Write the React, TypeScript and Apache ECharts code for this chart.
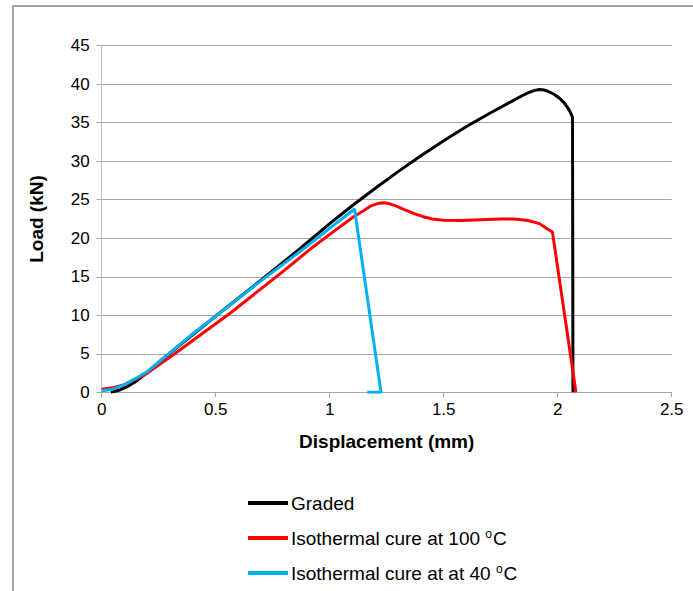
import React, { useEffect, useRef } from 'react';
import * as echarts from 'echarts';

const seriesNames = ['Graded', 'Isothermal cure at 100 ºC', 'Isothermal cure at at 40 ºC'];
const seriesColors = ['#000000', '#ff0000', '#00b0f0'];

const gradedX = [0.04, 0.08, 0.11, 0.15, 0.2, 0.25, 0.3, 0.4, 0.505, 0.7, 0.872, 1.0, 1.1, 1.2, 1.3, 1.4, 1.5, 1.6, 1.7, 1.8, 1.85, 1.88, 1.9, 1.92, 1.94, 1.96, 1.984, 2.005, 2.028, 2.045, 2.058, 2.065, 2.067];
const gradedY = [0, 0.3, 0.7, 1.4, 2.6, 3.9, 5.1, 7.5, 10, 14.6, 18.7, 21.9, 24.25, 26.5, 28.65, 30.7, 32.65, 34.5, 36.2, 37.8, 38.6, 39.0, 39.2, 39.3, 39.25, 39.05, 38.7, 38.25, 37.6, 36.9, 36.2, 35.7, 0];

const cure100X = [0, 0.05, 0.1, 0.2, 0.32, 0.44, 0.56, 0.68, 0.8, 0.915, 1.0, 1.105, 1.15, 1.18, 1.21, 1.237, 1.26, 1.29, 1.33, 1.37, 1.41, 1.45, 1.5, 1.58, 1.66, 1.75, 1.81, 1.87, 1.92, 1.955, 1.977, 2.08];
const cure100Y = [0.4, 0.6, 1.0, 2.5, 5, 7.6, 10.2, 13.0, 15.8, 18.6, 20.5, 22.8, 23.6, 24.2, 24.5, 24.6, 24.5, 24.2, 23.7, 23.2, 22.8, 22.5, 22.35, 22.3, 22.4, 22.5, 22.5, 22.3, 21.9, 21.2, 20.8, 0];

const cure40X = [0, 0.05, 0.1, 0.15, 0.2, 0.25, 0.29, 0.4, 0.51, 0.7, 0.893, 1.0, 1.109, 1.225, 1.165];
const cure40Y = [0.2, 0.4, 1.0, 1.8, 2.7, 3.9, 4.9, 7.6, 10.1, 14.5, 18.8, 21.3, 23.8, 0, 0];

const xTitle = 'Displacement (mm)';
const yTitle = 'Load (kN)';

const zip = (xs: number[], ys: number[]) => xs.map((x, i) => [x, ys[i]]);

export default function App() {
  const ref = useRef<HTMLDivElement>(null);
  useEffect(() => {
    if (!ref.current) return;
    const chart = echarts.init(ref.current, null, { renderer: 'svg' });
    const font = '"Liberation Sans", Arial, sans-serif';
    const dataSets = [zip(gradedX, gradedY), zip(cure100X, cure100Y), zip(cure40X, cure40Y)];
    const legendTops = [493, 528, 563];
    chart.setOption({
      animation: false,
      backgroundColor: '#ffffff',
      textStyle: { fontFamily: font },
      grid: { left: 101.7, right: 21.3, top: 45.7, bottom: 198.7 },
      graphic: [
        {
          type: 'rect',
          shape: { x: 13, y: 6, width: 720, height: 620 },
          style: { fill: 'none', stroke: '#878787', lineWidth: 1.5 },
          silent: true,
          z: -10,
        },
      ],
      xAxis: {
        type: 'value',
        min: 0,
        max: 2.5,
        interval: 0.5,
        name: xTitle,
        nameLocation: 'middle',
        nameGap: 40,
        nameTextStyle: { fontFamily: font, fontSize: 19, fontWeight: 'bold', color: '#000' },
        axisLine: { show: true, lineStyle: { color: '#a6a6a6', width: 1 } },
        axisTick: { show: true, length: 5, lineStyle: { color: '#a6a6a6' } },
        axisLabel: { fontFamily: font, fontSize: 17, color: '#000', margin: 9 },
        splitLine: { show: false },
      },
      yAxis: {
        type: 'value',
        min: 0,
        max: 45,
        interval: 5,
        name: yTitle,
        nameLocation: 'middle',
        nameGap: 56,
        nameRotate: 90,
        nameTextStyle: { fontFamily: font, fontSize: 19, fontWeight: 'bold', color: '#000' },
        axisLine: { show: true, lineStyle: { color: '#c0c0c0', width: 1 } },
        axisTick: { show: true, length: 5, lineStyle: { color: '#a6a6a6' } },
        axisLabel: { fontFamily: font, fontSize: 17, color: '#000', margin: 12 },
        splitLine: { show: true, lineStyle: { color: '#a6a6a6', width: 1 } },
      },
      legend: seriesNames.map((name, i) => ({
        orient: 'vertical',
        left: 248,
        top: legendTops[i],
        padding: 0,
        itemWidth: 40,
        itemHeight: 4,
        icon: 'rect',
        data: [name],
        formatter: (n: string) => n.replace('º', '{sup|o}'),
        textStyle: {
          fontFamily: font,
          fontSize: 19,
          color: '#000',
          lineHeight: 20,
          padding: [0, 0, 0, -2],
          rich: {
            sup: { fontFamily: font, fontSize: 12, lineHeight: 10, verticalAlign: 'top', color: '#000', padding: [0, 1, 6, 0] },
          },
        },
      })),
      series: seriesNames.map((name, i) => ({
        name,
        type: 'line',
        data: dataSets[i],
        showSymbol: false,
        symbol: 'none',
        color: seriesColors[i],
        lineStyle: { color: seriesColors[i], width: 3 },
        z: 2 + i,
      })),
    });
    return () => chart.dispose();
  }, []);
  return <div ref={ref} style={{ position: 'absolute', left: 0, top: 0, width: 693, height: 591 }} />;
}
